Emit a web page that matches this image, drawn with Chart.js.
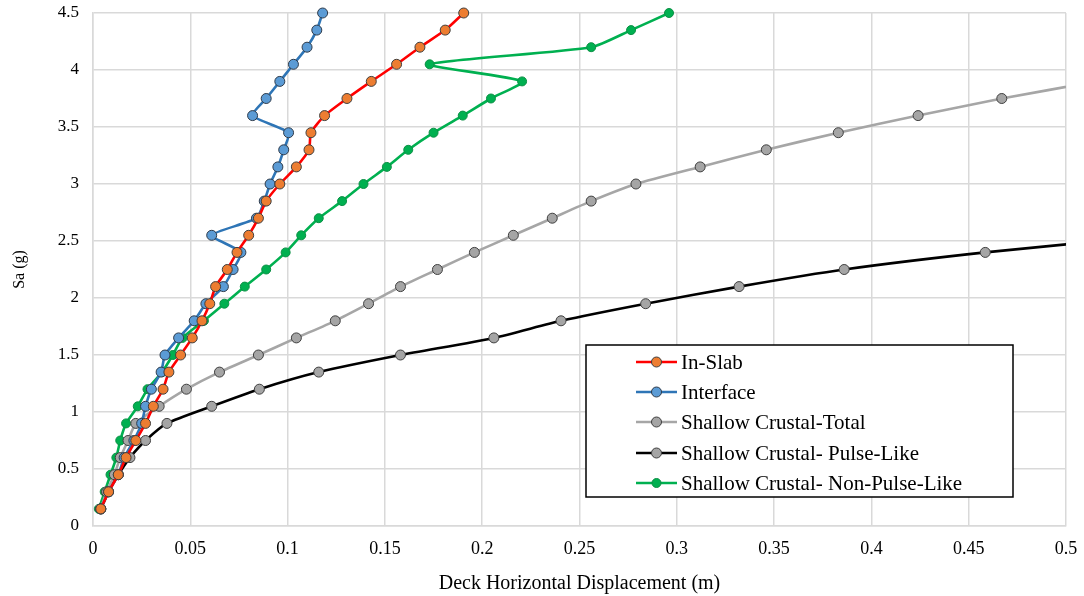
<!DOCTYPE html>
<html>
<head>
<meta charset="utf-8">
<title>Deck Horizontal Displacement</title>
<script src="https://cdn.jsdelivr.net/npm/chart.js@4.4.1/dist/chart.umd.min.js"></script>
<style>
  html, body { margin: 0; padding: 0; background: #ffffff; }
  #wrap { width: 1084px; height: 596px; }
</style>
</head>
<body>
<div id="wrap"><canvas id="dispChart" width="1084" height="596"></canvas></div>
<script>
// Sa levels (g) shared by all series, step 0.15
const saLevels = [
  0.15, 0.3, 0.45, 0.6, 0.75, 0.9, 1.05, 1.2, 1.35, 1.5,
  1.65, 1.8, 1.95, 2.1, 2.25, 2.4, 2.55, 2.7, 2.85, 3.0,
  3.15, 3.3, 3.45, 3.6, 3.75, 3.9, 4.05, 4.2, 4.35, 4.5
];

// deck displacement (m) at each Sa level
const inSlab = [
  0.004, 0.008, 0.013, 0.017, 0.022, 0.027, 0.031, 0.036, 0.039, 0.045,
  0.051, 0.056, 0.060, 0.063, 0.069, 0.074, 0.080, 0.085, 0.089, 0.096,
  0.1045, 0.111, 0.112, 0.119, 0.1305, 0.143, 0.156, 0.168, 0.181, 0.1905
];
const interfaceDisp = [
  0.004, 0.008, 0.013, 0.016, 0.021, 0.025, 0.027, 0.030, 0.035, 0.037,
  0.044, 0.052, 0.058, 0.067, 0.072, 0.076, 0.061, 0.084, 0.088, 0.091,
  0.095, 0.098, 0.1005, 0.082, 0.089, 0.096, 0.103, 0.110, 0.115, 0.118
];
const crustalTotal = [
  0.004, 0.007, 0.011, 0.014, 0.018, 0.022, 0.034, 0.048, 0.065, 0.085,
  0.1045, 0.1245, 0.1416, 0.158, 0.177, 0.196, 0.216, 0.236, 0.256, 0.279,
  0.312, 0.346, 0.383, 0.424, 0.467, 0.516
];
const crustalPulse = [
  0.004, 0.008, 0.013, 0.019, 0.027, 0.038, 0.061, 0.0855, 0.116, 0.158,
  0.206, 0.2405, 0.284, 0.332, 0.386, 0.4585, 0.548
];
const crustalNonPulse = [
  0.003, 0.006, 0.009, 0.012, 0.014, 0.017, 0.023, 0.028, 0.0355, 0.041,
  0.046, 0.057, 0.0675, 0.078, 0.089, 0.099, 0.107, 0.116, 0.128, 0.139,
  0.151, 0.162, 0.175, 0.190, 0.2045, 0.2205, 0.173, 0.256, 0.2765, 0.296
];

const seriesNames = [
  "In-Slab",
  "Interface",
  "Shallow Crustal-Total",
  "Shallow Crustal- Pulse-Like",
  "Shallow Crustal- Non-Pulse-Like"
];

const xTicks = [0, 0.05, 0.1, 0.15, 0.2, 0.25, 0.3, 0.35, 0.4, 0.45, 0.5];
const yTicks = [0, 0.5, 1, 1.5, 2, 2.5, 3, 3.5, 4, 4.5];

const SERIF = "'Times New Roman', 'Liberation Serif', serif";

/**
 * Ghép giá trị chuyển vị với các mức Sa thành điểm {x, y}.
 */
function toPoints(disp) {
  return disp.map((d, i) => ({ x: d, y: saLevels[i] }));
}

function makeDataset(label, disp, line, fill, border, radius) {
  return {
    label: label,
    data: toPoints(disp),
    showLine: true,
    borderColor: line,
    borderWidth: 2.6,
    tension: 0.2,
    pointRadius: radius,
    pointHoverRadius: radius,
    pointBackgroundColor: fill,
    pointBorderColor: border,
    pointBorderWidth: 1,
    clip: { left: 10, top: 10, right: 0, bottom: 10 },
  };
}

// legend drawn inside the plot, like the original
const insideLegend = {
  id: "insideLegend",
  afterDatasetsDraw(chart) {
    const ctx = chart.ctx;
    const box = { x: 586, y: 345, w: 427, h: 152 };
    ctx.save();
    ctx.fillStyle = "#ffffff";
    ctx.fillRect(box.x, box.y, box.w, box.h);
    ctx.strokeStyle = "#000000";
    ctx.lineWidth = 1.5;
    ctx.strokeRect(box.x, box.y, box.w, box.h);

    const rows = [362, 392, 422, 453, 483];
    chart.data.datasets.forEach((ds, i) => {
      const y = rows[i];
      ctx.strokeStyle = ds.borderColor;
      ctx.lineWidth = 2.6;
      ctx.beginPath();
      ctx.moveTo(636, y);
      ctx.lineTo(677, y);
      ctx.stroke();
      ctx.beginPath();
      ctx.arc(656.5, y, ds.pointRadius, 0, Math.PI * 2);
      ctx.fillStyle = ds.pointBackgroundColor;
      ctx.fill();
      ctx.strokeStyle = ds.pointBorderColor;
      ctx.lineWidth = 1;
      ctx.stroke();

      ctx.fillStyle = "#000000";
      ctx.font = "21px " + SERIF;
      ctx.textBaseline = "middle";
      ctx.textAlign = "left";
      ctx.fillText(ds.label, 681, y + 1);
    });
    ctx.restore();
  },
};

function fmt(v) {
  return String(+Number(v).toFixed(2));
}

function renderChart() {
  const ctx = document.getElementById("dispChart").getContext("2d");
  new Chart(ctx, {
    type: "scatter",
    data: {
      datasets: [
        makeDataset(seriesNames[0], inSlab, "#FF0000", "#ED7D31", "#3F3F3F", 5),
        makeDataset(seriesNames[1], interfaceDisp, "#2E75B6", "#5B9BD5", "#2F3B4A", 5),
        makeDataset(seriesNames[2], crustalTotal, "#A6A6A6", "#A5A5A5", "#404040", 5),
        makeDataset(seriesNames[3], crustalPulse, "#000000", "#A5A5A5", "#404040", 5),
        makeDataset(seriesNames[4], crustalNonPulse, "#00B050", "#00B050", "#0C8F45", 4.5),
      ],
    },
    options: {
      responsive: false,
      animation: false,
      layout: { padding: { left: 0, right: 18, top: 13, bottom: 0 } },
      plugins: {
        legend: { display: false },
        tooltip: { enabled: false },
      },
      scales: {
        x: {
          type: "linear",
          min: 0,
          max: 0.5,
          afterBuildTicks: (scale) => {
            scale.ticks = xTicks.map((v) => ({ value: v }));
          },
          afterFit: (scale) => {
            scale.height = 70;
            scale.paddingLeft = 0;
            scale.paddingRight = 0;
          },
          grid: { color: "#D9D9D9", lineWidth: 1.5, drawTicks: false },
          border: { color: "#D9D9D9", width: 1.5 },
          ticks: {
            padding: 12,
            color: "#000000",
            font: { family: SERIF, size: 18 },
            callback: (v) => fmt(v),
          },
          title: {
            display: true,
            text: "Deck Horizontal Displacement (m)",
            color: "#000000",
            font: { family: SERIF, size: 20 },
            padding: { top: 6, bottom: 0 },
          },
        },
        y: {
          type: "linear",
          min: 0,
          max: 4.5,
          afterBuildTicks: (scale) => {
            scale.ticks = yTicks.map((v) => ({ value: v }));
          },
          afterFit: (scale) => {
            scale.width = 93;
            scale.paddingTop = 0;
            scale.paddingBottom = 0;
          },
          grid: { color: "#D9D9D9", lineWidth: 1.5, drawTicks: false },
          border: { color: "#D9D9D9", width: 1.5 },
          ticks: {
            padding: 14,
            color: "#000000",
            font: { family: SERIF, size: 17 },
            callback: (v) => fmt(v),
          },
          title: {
            display: true,
            text: "Sa (g)",
            color: "#000000",
            font: { family: SERIF, size: 16 },
            padding: { top: 10, bottom: 0 },
          },
        },
      },
    },
    plugins: [insideLegend],
  });
}

document.addEventListener("DOMContentLoaded", renderChart);
</script>
</body>
</html>
